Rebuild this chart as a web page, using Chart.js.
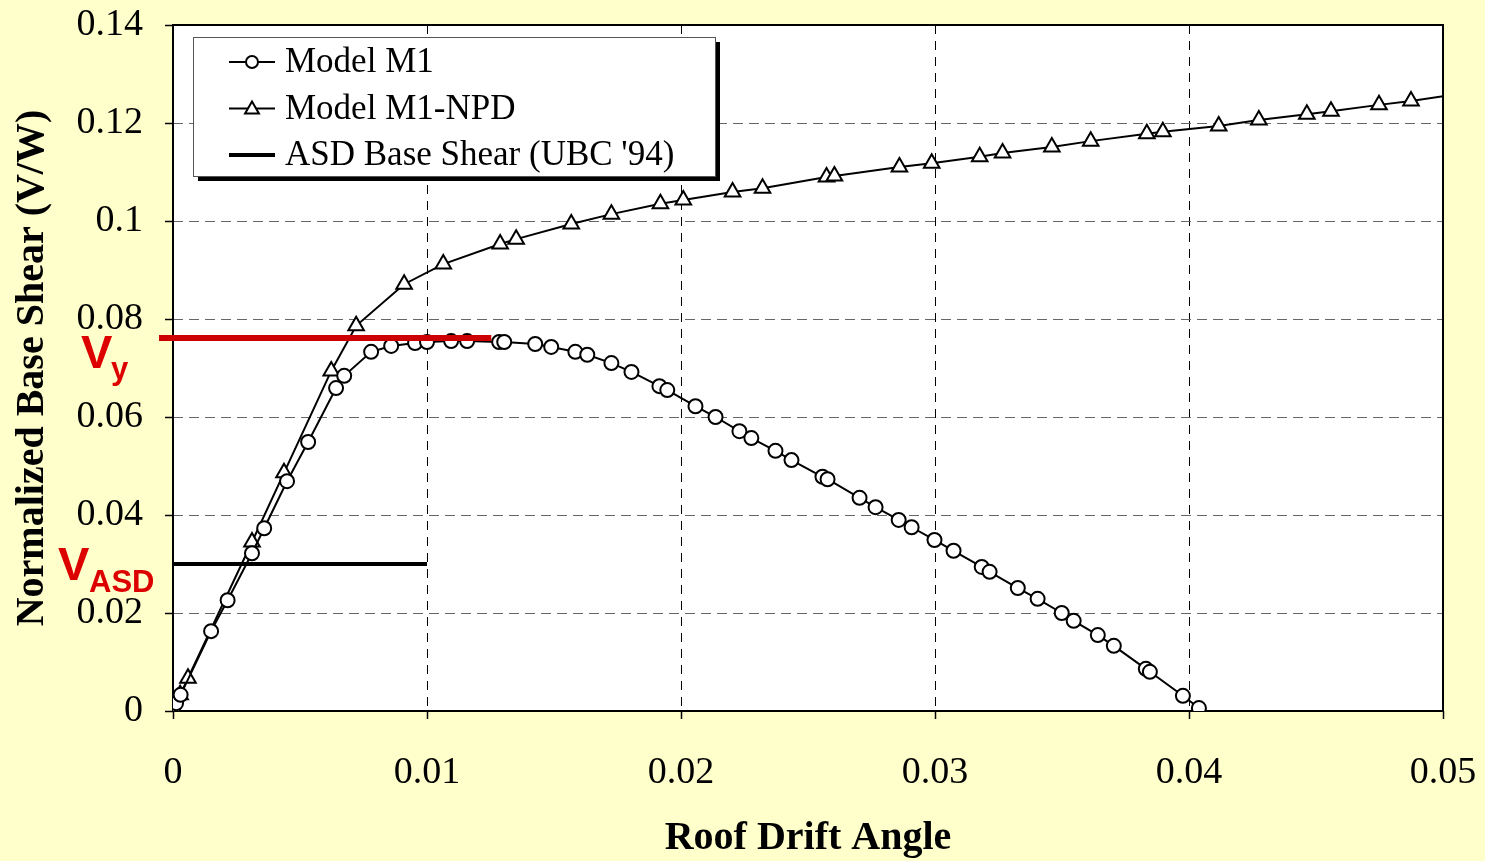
<!DOCTYPE html>
<html><head><meta charset="utf-8">
<script src="https://cdn.jsdelivr.net/npm/chart.js@4"></script>
<style>html,body{margin:0;padding:0;background:#FFFFCC;}#wrap{width:1485px;height:861px;position:relative;}</style>
</head><body><div id="wrap"><canvas id="c"></canvas></div>
<script>
// Model M1 (circles)
const m1X=[0,0.00012,0.0003,0.0015,0.00215,0.00311,0.00359,0.00449,0.00532,0.00642,0.00674,0.0078,0.00859,0.00953,0.01,0.01095,0.01158,0.01284,0.01304,0.01426,0.01489,0.01584,0.01631,0.01726,0.01805,0.01915,0.01946,0.02057,0.02136,0.0223,0.02277,0.02372,0.02435,0.02557,0.02577,0.02703,0.02766,0.02857,0.02908,0.02998,0.03073,0.03184,0.03215,0.03326,0.03404,0.03499,0.03546,0.03641,0.03704,0.0383,0.03846,0.03976,0.04039];
const m1Y=[0,0.0016,0.0033,0.0163,0.0226,0.0322,0.0373,0.0469,0.0549,0.0659,0.0684,0.0733,0.0745,0.0751,0.0753,0.0755,0.0755,0.0753,0.0753,0.0749,0.0743,0.0733,0.0727,0.071,0.0692,0.0663,0.0655,0.0622,0.06,0.0571,0.0557,0.0531,0.0512,0.0478,0.0473,0.0435,0.0416,0.039,0.0375,0.0349,0.0327,0.0294,0.0284,0.0251,0.0229,0.02,0.0184,0.0155,0.0133,0.0086,0.008,0.0031,0.0006];
// Model M1-NPD (triangles)
const npdX=[0,0.00028,0.00059,0.00311,0.00437,0.00623,0.00721,0.0091,0.01064,0.01288,0.01351,0.01568,0.01726,0.01919,0.02009,0.02203,0.02321,0.02573,0.02604,0.0286,0.02987,0.03176,0.03266,0.0346,0.03613,0.03834,0.03897,0.04117,0.04275,0.04464,0.04559,0.04748,0.04874,0.0503];
const npdY=[0,0.0033,0.0067,0.0345,0.0486,0.0694,0.0786,0.0871,0.0912,0.0953,0.0963,0.0994,0.1014,0.1035,0.1043,0.1059,0.1067,0.109,0.1092,0.111,0.1118,0.1131,0.1139,0.1151,0.1163,0.1178,0.1182,0.1194,0.1206,0.1218,0.1224,0.1237,0.1245,0.1257];
// ASD base shear
const asdX=[0,0.01];
const asdY=[0.030,0.030];
// Vy line
const vyX=[-0.00055,0.01253];
const vyY=[0.0761,0.0761];
const xTickLabels=['0','0.01','0.02','0.03','0.04','0.05'];
const yTickLabels=['0','0.02','0.04','0.06','0.08','0.1','0.12','0.14'];
const seriesLabels=['Model M1','Model M1-NPD',"ASD Base Shear (UBC '94)"];

const pts=(xs,ys)=>xs.map((x,i)=>({x:x,y:ys[i]}));
const SERIF='"Liberation Serif","Times New Roman",serif';
const SANS='"Liberation Sans",Arial,sans-serif';

const bgPlugin={id:'bg',beforeDraw(chart){const{ctx,chartArea:ca,width,height}=chart;ctx.save();ctx.fillStyle='#FFFFCC';ctx.fillRect(0,0,width,height);ctx.fillStyle='#fff';ctx.fillRect(ca.left,ca.top,ca.right-ca.left,ca.bottom-ca.top);ctx.restore();},
 beforeDatasetsDraw(chart){const{ctx,chartArea:ca}=chart;ctx.save();ctx.strokeStyle='#000';ctx.lineWidth=2;ctx.strokeRect(ca.left,ca.top,ca.right-ca.left,ca.bottom-ca.top);ctx.restore();}};

function drawMarker(ctx,style,x,y,r){ctx.beginPath();if(style==='circle'){ctx.arc(x,y,r,0,Math.PI*2);}else{ctx.moveTo(x,y-r);ctx.lineTo(x+r*0.866,y+r/2);ctx.lineTo(x-r*0.866,y+r/2);ctx.closePath();}ctx.fillStyle='#fff';ctx.fill();ctx.lineWidth=2;ctx.strokeStyle='#000';ctx.stroke();}

const legendPlugin={id:'customLegend',afterDraw(chart){const{ctx,chartArea:ca}=chart;const bx=ca.left+20,by=ca.top+12,bw=522,bh=139;ctx.save();
 ctx.fillStyle='#000';ctx.fillRect(bx+5,by+5,bw,bh);ctx.fillStyle='#fff';ctx.fillRect(bx,by,bw,bh);ctx.strokeStyle='#555';ctx.lineWidth=1;ctx.strokeRect(bx+0.5,by+0.5,bw,bh);
 ctx.font='35px '+SERIF;ctx.textBaseline='middle';ctx.textAlign='left';
 for(let i=0;i<3;i++){const ds=chart.data.datasets[i];const y=by+25+i*46.5;ctx.strokeStyle='#000';ctx.lineWidth=i===2?4:2;ctx.beginPath();ctx.moveTo(bx+36,y);ctx.lineTo(bx+82,y);ctx.stroke();
  if(i===0)drawMarker(ctx,'circle',bx+59,y,6);if(i===1)drawMarker(ctx,'triangle',bx+59,y+1,8);
  ctx.fillStyle='#000';ctx.fillText(ds.label,bx+92,y+1);}
 ctx.restore();}};

const annPlugin={id:'ann',afterDraw(chart){const{ctx}=chart;const ys=chart.scales.y;ctx.save();ctx.fillStyle='#DD0000';ctx.textBaseline='alphabetic';ctx.textAlign='left';
 const p1=ys.getPixelForValue(vyY[0]);ctx.font='bold 47px '+SANS;ctx.fillText('V',81,p1+30);ctx.font='bold 31px '+SANS;ctx.fillText('y',111,p1+41);
 const p2=ys.getPixelForValue(asdY[0]);ctx.font='bold 47px '+SANS;ctx.fillText('V',58,p2+16);ctx.font='bold 31px '+SANS;ctx.fillText('ASD',89,p2+28);
 ctx.restore();}};

new Chart(document.getElementById('c'),{
 type:'line',
 data:{datasets:[
  {label:seriesLabels[0],data:pts(m1X,m1Y),borderColor:'#000',borderWidth:2,pointStyle:'circle',pointRadius:7,pointBorderWidth:2,pointBackgroundColor:'#fff',pointBorderColor:'#000',tension:0,order:1},
  {label:seriesLabels[1],data:pts(npdX,npdY),borderColor:'#000',borderWidth:2,pointStyle:'triangle',pointRadius:npdX.map((v,i)=>i===npdX.length-1?0:9),pointBorderWidth:2,pointBackgroundColor:'#fff',pointBorderColor:'#000',tension:0,order:2},
  {label:seriesLabels[2],data:pts(asdX,asdY),borderColor:'#000',borderWidth:4,pointRadius:0,tension:0,order:3},
  {label:'Vy',data:pts(vyX,vyY),borderColor:'#CC0000',borderWidth:6,pointRadius:0,tension:0,clip:false,order:0}
 ]},
 options:{responsive:true,maintainAspectRatio:false,animation:false,
  layout:{padding:{left:0,right:42,top:25,bottom:0}},
  plugins:{legend:{display:false},tooltip:{enabled:false}},
  scales:{
   x:{type:'linear',min:0,max:0.05,
    afterFit:s=>{s.height=150;s.paddingLeft=0;s.paddingRight=0;},
    ticks:{stepSize:0.01,autoSkip:false,maxRotation:0,padding:31,color:'#000',font:{family:SERIF,size:38},callback:(v,i)=>xTickLabels[i]},
    grid:{color:'#000',lineWidth:1,tickColor:'#000',tickLength:8,tickWidth:1.5,tickBorderDash:[]},
    border:{display:false,dash:[9,7]},
    title:{display:true,text:'Roof Drift Angle',color:'#000',font:{family:SERIF,size:40,weight:'bold',lineHeight:1.1},padding:{top:0,bottom:0}}},
   y:{type:'linear',min:0,max:0.14,
    afterFit:s=>{s.width=173;s.paddingTop=0;s.paddingBottom=0;},
    ticks:{stepSize:0.02,autoSkip:false,padding:22,color:'#000',font:{family:SERIF,size:38},callback:(v,i)=>yTickLabels[i]},
    grid:{color:'#666',lineWidth:1,tickColor:'#000',tickLength:8,tickWidth:1.5,tickBorderDash:[]},
    border:{display:false,dash:[10,6]},
    title:{display:true,text:'Normalized Base Shear (V/W)',color:'#000',font:{family:SERIF,size:40,weight:'bold'},padding:{top:9,bottom:0}}}
  }},
 plugins:[bgPlugin,legendPlugin,annPlugin]
});
</script></body></html>
